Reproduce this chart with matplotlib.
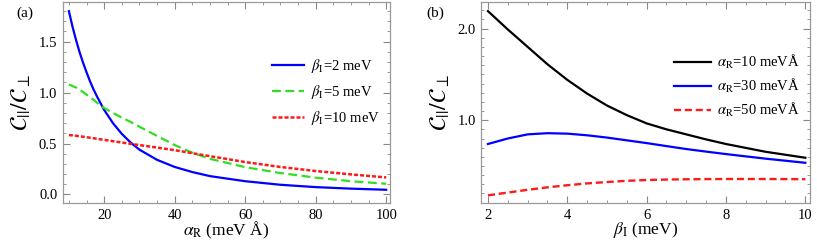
import matplotlib
matplotlib.use('Agg')
import matplotlib.pyplot as plt
from matplotlib.ticker import MultipleLocator, FormatStrFormatter

plt.rcParams['font.family'] = ['Liberation Serif', 'DejaVu Serif']
plt.rcParams['mathtext.fontset'] = 'stix'

# panel (a): ratio vs alpha_R for three beta_I values
alpha_r = [10, 11, 12, 13, 14, 15, 16, 17, 18, 20, 22.5, 25, 27.5, 30, 35, 40, 45, 50, 60, 70, 80, 90, 100]
beta2 = [1.80, 1.65, 1.52, 1.40, 1.295, 1.20, 1.11, 1.03, 0.96, 0.83, 0.70, 0.595, 0.51, 0.44, 0.34, 0.27,
	0.22, 0.18, 0.13, 0.095, 0.072, 0.057, 0.046]
beta5 = [1.08, 1.065, 1.05, 1.03, 1.005, 0.98, 0.955, 0.93, 0.90, 0.85, 0.80, 0.755, 0.712, 0.665, 0.575, 0.485,
	0.41, 0.35, 0.268, 0.21, 0.165, 0.13, 0.105]
beta10 = [0.583, 0.58, 0.576, 0.572, 0.567, 0.562, 0.557, 0.552, 0.546, 0.536, 0.523, 0.51, 0.497, 0.485, 0.46,
	0.435, 0.405, 0.376, 0.318, 0.27, 0.23, 0.197, 0.167]
labels_a = [r'$\beta_{\rm I}$=2 meV', r'$\beta_{\rm I}$=5 meV', r'$\beta_{\rm I}$=10 meV']

# panel (b): ratio vs beta_I for three alpha_R values
beta_i = [2, 2.5, 3, 3.5, 4, 4.5, 5, 5.5, 6, 6.5, 7, 7.5, 8, 9, 10]
alpha10 = [2.19, 1.99, 1.80, 1.61, 1.44, 1.29, 1.16, 1.055, 0.965, 0.90, 0.845, 0.79, 0.74, 0.655, 0.59]
alpha30 = [0.74, 0.80, 0.845, 0.858, 0.853, 0.835, 0.81, 0.78, 0.75, 0.717, 0.685, 0.657, 0.63, 0.58, 0.535]
alpha50 = [0.18, 0.21, 0.24, 0.267, 0.29, 0.31, 0.325, 0.338, 0.347, 0.352, 0.355, 0.357, 0.358, 0.358, 0.356]
labels_b = [r'$\alpha_{\rm R}$=10 meVÅ', r'$\alpha_{\rm R}$=30 meVÅ', r'$\alpha_{\rm R}$=50 meVÅ']

ylab = r'$\mathcal{C}_{||}/\mathcal{C}_{\perp}$'

fig = plt.figure(figsize=(8.17, 2.45), dpi=100)
axa = fig.add_axes([0.077, 0.171, 0.400, 0.821])
axb = fig.add_axes([0.589, 0.171, 0.402, 0.821])

def style(ax):
	for s in ax.spines.values():
		s.set_color('#999999')
		s.set_linewidth(0.9)
	ax.tick_params(which='both', direction='in', top=True, right=True,
		color='#888888', labelsize=10.5, pad=4)
	ax.tick_params(which='major', length=5)
	ax.tick_params(which='minor', length=2.5)
	ax.yaxis.set_major_formatter(FormatStrFormatter('%.1f'))

axa.plot(alpha_r, beta2, color='#0000ff', lw=1.6, label=labels_a[0])
axa.plot(alpha_r, beta5, color='#33dd22', lw=1.6, ls=(0, (4, 2)), label=labels_a[1])
axa.plot(alpha_r, beta10, color='#ff1a1a', lw=1.8, ls=(0, (1.6, 0.8)), label=labels_a[2])
axa.set_xlim(8.3, 101)
axa.set_ylim(-0.085, 1.89)
axa.xaxis.set_major_locator(MultipleLocator(20))
axa.xaxis.set_minor_locator(MultipleLocator(5))
axa.yaxis.set_major_locator(MultipleLocator(0.5))
axa.yaxis.set_minor_locator(MultipleLocator(0.1))
style(axa)
axa.set_xlabel(r'$\alpha_{\rm R}$ (meV Å)', fontsize=12.5, labelpad=-1)
axa.set_ylabel(ylab, fontsize=17, labelpad=4)
axa.legend(frameon=False, loc='upper right', bbox_to_anchor=(1.01, 0.79), fontsize=10.5,
	handlelength=2.2, handletextpad=0.5, labelspacing=0.55)
fig.text(0.020, 0.93, '(a)', fontsize=11)

axb.plot(beta_i, alpha10, color='black', lw=1.6, label=labels_b[0])
axb.plot(beta_i, alpha30, color='#0000ff', lw=1.6, label=labels_b[1])
axb.plot(beta_i, alpha50, color='#ff1a1a', lw=1.7, ls=(0, (3, 1.6)), label=labels_b[2])
axb.set_xlim(1.83, 10.11)
axb.set_ylim(0.095, 2.29)
axb.xaxis.set_major_locator(MultipleLocator(2))
axb.xaxis.set_minor_locator(MultipleLocator(0.5))
axb.yaxis.set_major_locator(MultipleLocator(1.0))
axb.yaxis.set_minor_locator(MultipleLocator(0.1))
style(axb)
axb.set_xlabel(r'$\beta_{\rm I}$ (meV)', fontsize=12.5, labelpad=-1)
axb.set_ylabel(ylab, fontsize=17, labelpad=4)
axb.legend(frameon=False, loc='upper right', bbox_to_anchor=(1.01, 0.81), fontsize=10.5,
	handlelength=2.5, handletextpad=0.4, labelspacing=0.4)
fig.text(0.522, 0.93, '(b)', fontsize=11)

fig.savefig('out.png', dpi=100)
